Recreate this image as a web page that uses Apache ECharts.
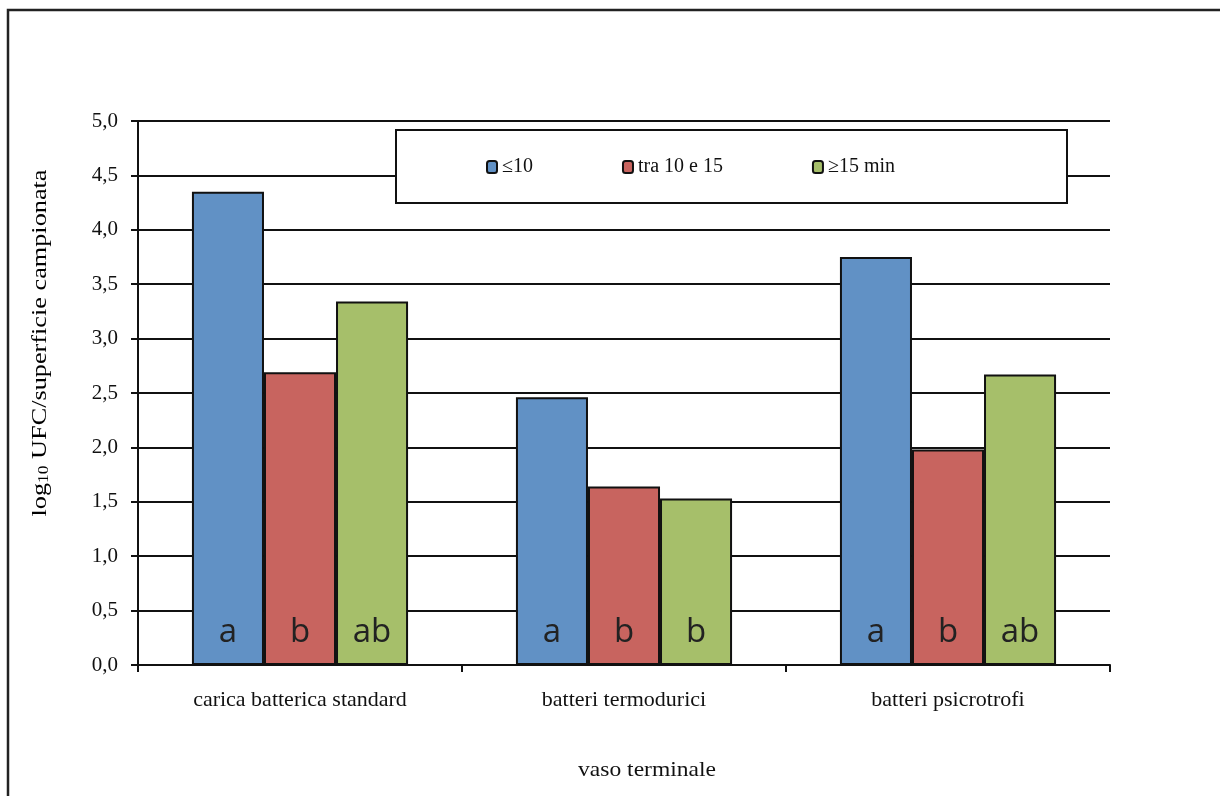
<!DOCTYPE html>
<html>
<head>
<meta charset="utf-8">
<script src="https://cdn.jsdelivr.net/npm/echarts@6/dist/echarts.min.js"></script>
<style>
html,body{margin:0;padding:0;background:#fff;}
#chart{width:1220px;height:796px;}
</style>
</head>
<body>
<div id="chart"></div>
<script>
// ---- data ----
var categories = ['carica batterica standard', 'batteri termodurici', 'batteri psicrotrofi'];
var seriesNames = ['≤10', 'tra 10 e 15', '≥15 min'];
var valuesLe10 = [4.35, 2.46, 3.75];
var values10to15 = [2.69, 1.64, 1.98];
var valuesGe15 = [3.34, 1.53, 2.67];
var lettersLe10 = ['a', 'a', 'a'];
var letters10to15 = ['b', 'b', 'b'];
var lettersGe15 = ['ab', 'b', 'ab'];
var colors = ['#6191C5', '#C8645F', '#A6BF6A'];
var yTicks = { min: 0, max: 5, interval: 0.5 };

var serif = '"Liberation Serif", "Times New Roman", serif';
var sans = '"Open Sans", "Liberation Sans", sans-serif';

function mkSeries(name, vals, letters, color) {
  return {
    name: name,
    type: 'bar',
    data: vals,
    barGap: 0,
    barCategoryGap: '33.3%',
    itemStyle: { color: color, borderColor: '#111', borderWidth: 2 },
    label: {
      show: true,
      position: 'insideBottom',
      distance: 16,
      fontFamily: sans,
      fontSize: 33,
      color: '#222',
      formatter: function (p) { return letters[p.dataIndex]; }
    },
    emphasis: { disabled: true }
  };
}

var chart = echarts.init(document.getElementById('chart'), null, { renderer: 'canvas' });
chart.setOption({
  animation: false,
  backgroundColor: '#fff',
  graphic: [
    { type: 'rect', shape: { x: 8, y: 10, width: 1240, height: 820 },
      style: { fill: 'none', stroke: '#222', lineWidth: 2.5 }, silent: true, z: -1 },
    { type: 'rect', shape: { x: 396, y: 130, width: 671, height: 73 },
      style: { fill: '#fff', stroke: '#111', lineWidth: 2 }, silent: true, z: 5 },
    { type: 'text', x: 40, y: 343, rotation: Math.PI / 2, scaleX: 1.25, scaleY: 1,
      style: {
        text: '{n|log}{s|10}{n| UFC/superficie campionata}',
        align: 'center', verticalAlign: 'middle',
        rich: {
          n: { fontFamily: serif, fontSize: 21, color: '#111' },
          s: { fontFamily: serif, fontSize: 14, color: '#111', verticalAlign: 'bottom', padding: [9, 0, 0, 0] }
        }
      }
    },
    { type: 'text', x: 647, y: 770, scaleX: 1.12,
      style: { text: 'vaso terminale', fontFamily: serif, fontSize: 21, fill: '#111', align: 'center', verticalAlign: 'middle' } }
  ],
  legend: {
    left: 486, top: 157,
    orient: 'horizontal',
    padding: 0,
    itemGap: 89,
    itemWidth: 10, itemHeight: 12,
    z: 10,
    textStyle: { fontFamily: serif, fontSize: 20, color: '#111' },
    data: seriesNames
  },
  grid: { left: 138, right: 110, top: 121, bottom: 131, containLabel: false },
  xAxis: {
    type: 'category',
    data: categories,
    axisLine: { lineStyle: { color: '#111', width: 2 } },
    axisTick: { show: true, length: 7, lineStyle: { color: '#111', width: 2 } },
    axisLabel: { fontFamily: serif, fontSize: 22, color: '#111', margin: 24 }
  },
  yAxis: {
    type: 'value',
    min: yTicks.min, max: yTicks.max, interval: yTicks.interval,
    axisLine: { show: true, lineStyle: { color: '#111', width: 2 } },
    axisTick: { show: true, length: 7, lineStyle: { color: '#111', width: 2 } },
    splitLine: { show: true, lineStyle: { color: '#111', width: 2 } },
    axisLabel: { fontFamily: serif, fontSize: 21, color: '#111', margin: 20,
      formatter: function (v) { return v.toFixed(1).replace('.', ','); } }
  },
  series: [
    mkSeries(seriesNames[0], valuesLe10, lettersLe10, colors[0]),
    mkSeries(seriesNames[1], values10to15, letters10to15, colors[1]),
    mkSeries(seriesNames[2], valuesGe15, lettersGe15, colors[2])
  ]
});
</script>
</body>
</html>
